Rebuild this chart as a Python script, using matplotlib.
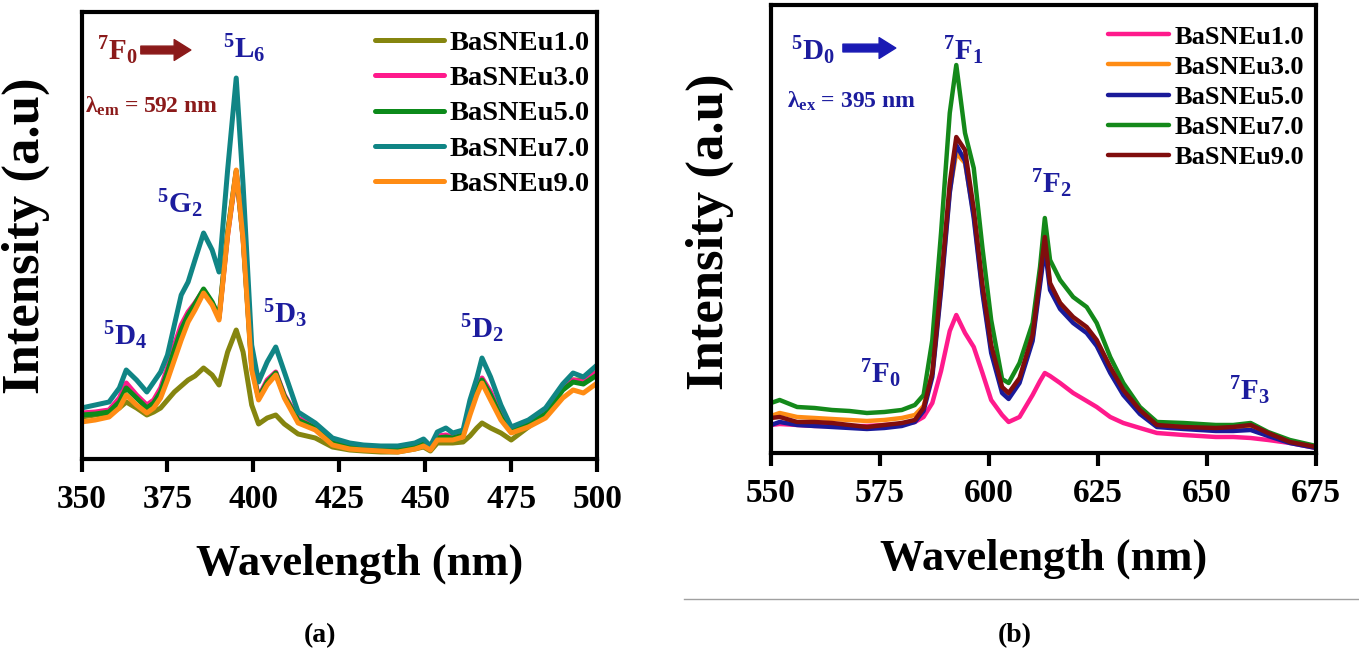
import matplotlib
matplotlib.use("Agg")
import matplotlib.pyplot as plt
from matplotlib.lines import Line2D

plt.rcParams['font.family'] = ['Liberation Serif', 'DejaVu Serif']
plt.rcParams['font.weight'] = 'bold'
plt.rcParams['mathtext.fontset'] = 'custom'
plt.rcParams['mathtext.rm'] = 'Liberation Serif:bold'
plt.rcParams['mathtext.it'] = 'Liberation Serif:bold'
plt.rcParams['mathtext.bf'] = 'Liberation Serif:bold'

# ---- panel (a): excitation spectra, lambda_em = 592 nm ----
wl_a = [350, 354, 358, 361, 363, 366, 369, 371, 373, 375, 377, 379, 381, 383, 385.5,
        388, 390, 392.5, 395, 397, 399.5, 401.5, 404, 406.5, 409, 413, 418, 423, 428,
        432, 437, 442, 447, 449.5, 451.5, 453.5, 456, 458, 461, 463, 465, 466.5, 469,
        472, 475, 480, 485, 490, 493, 496, 500]
eu1_a = [43, 45, 47, 52, 58, 52, 45, 48, 52, 60, 68, 74, 80, 84, 92,
         85, 75, 108, 130, 108, 55, 36, 42, 45, 36, 26, 22, 13, 10,
         9, 8, 8, 11, 13, 9, 17, 17, 17, 18, 24, 32, 37, 32,
         27, 20, 33, 47, 72, 80, 80, 88]
eu3_a = [47, 48, 50, 62, 77, 65, 55, 60, 72, 92, 115, 135, 148, 157, 170,
         157, 142, 225, 288, 222, 95, 63, 80, 88, 65, 42, 33, 18, 14,
         12, 11, 11, 14, 17, 12, 24, 25, 23, 26, 52, 72, 82, 68,
         45, 30, 38, 48, 72, 80, 78, 88]
eu5_a = [45, 46, 48, 58, 72, 62, 52, 57, 68, 88, 110, 130, 145, 156, 171,
         158, 143, 228, 289, 222, 93, 62, 78, 87, 64, 40, 32, 17, 13,
         11, 10, 10, 13, 16, 11, 22, 23, 22, 25, 50, 70, 80, 65,
         43, 29, 36, 46, 70, 78, 76, 85]
eu7_a = [52, 55, 58, 72, 90, 80, 68, 78, 88, 105, 135, 165, 178, 200, 227,
         210, 188, 290, 382, 275, 115, 78, 98, 113, 88, 48, 37, 22, 17,
         15, 14, 14, 17, 21, 14, 28, 32, 27, 30, 60, 82, 102, 83,
         55, 33, 40, 52, 76, 87, 83, 95]
eu9_a = [38, 40, 43, 52, 65, 55, 47, 52, 62, 80, 100, 120, 138, 150, 167,
         155, 140, 225, 290, 220, 90, 60, 75, 85, 62, 37, 30, 15, 11,
         10, 9, 8, 11, 14, 10, 20, 20, 20, 23, 45, 65, 77, 60,
         40, 27, 33, 42, 62, 70, 67, 77]

# ---- panel (b): emission spectra, lambda_ex = 395 nm ----
wl_b = [550, 552, 556, 560, 564, 568, 572, 576, 580, 583, 585, 587, 589, 591, 592.5,
        594.5, 596.5, 598.5, 600.5, 603, 604.5, 607, 610, 611.7, 612.8, 614, 616.3,
        619.3, 622.4, 624.7, 627.8, 630.8, 634.6, 638.5, 644.6, 652, 656, 660, 664,
        669, 675]
eu1_b = [28, 29, 28, 27, 27, 27, 27, 28, 29, 31, 36, 50, 82, 122, 138,
         120, 106, 80, 53, 38, 31, 36, 58, 72, 80, 77, 70,
         60, 52, 46, 36, 30, 25, 20, 18, 16, 16, 15, 13,
         10, 5]
eu3_b = [37, 40, 36, 35, 34, 33, 32, 33, 35, 38, 47, 80, 165, 262, 300,
         290, 238, 163, 104, 64, 58, 73, 115, 172, 210, 168, 150,
         133, 123, 110, 83, 61, 41, 27, 25, 24, 25, 27, 19,
         11, 6]
eu5_b = [28, 31, 28, 27, 26, 25, 24, 25, 27, 31, 42, 76, 162, 260, 308,
         292, 235, 160, 100, 60, 54, 70, 112, 168, 205, 163, 144,
         130, 120, 107, 80, 58, 39, 26, 24, 22, 22, 23, 17,
         10, 5]
eu7_b = [50, 53, 46, 45, 43, 42, 40, 41, 43, 48, 58, 113, 220, 340, 388,
         320, 285, 205, 133, 74, 70, 90, 130, 186, 235, 193, 173,
         156, 146, 130, 96, 70, 46, 31, 30, 28, 28, 30, 21,
         13, 7]
eu9_b = [35, 36, 31, 31, 30, 28, 26, 28, 30, 33, 45, 80, 170, 270, 316,
         303, 244, 168, 108, 66, 60, 75, 118, 176, 216, 170, 150,
         136, 126, 113, 86, 63, 43, 28, 26, 25, 26, 28, 20,
         11, 6]

labels = ['BaSNEu1.0', 'BaSNEu3.0', 'BaSNEu5.0', 'BaSNEu7.0', 'BaSNEu9.0']
colors_a = ['#85850f', '#ff1a8c', '#0c8a1a', '#108585', '#ff8c14']
colors_b = ['#ff1a8c', '#ff8c14', '#1a1a99', '#14891a', '#800d0d']

blue = '#1c1c9e'
darkred = '#8b1a1a'

fig = plt.figure(figsize=(13.59, 6.53), dpi=100)
ax_a = fig.add_axes([0.060, 0.2971, 0.3794, 0.6845])
ax_b = fig.add_axes([0.5673, 0.3063, 0.4011, 0.686])

series_a = [eu1_a, eu3_a, eu5_a, eu7_a, eu9_a]
series_b = [eu1_b, eu3_b, eu5_b, eu7_b, eu9_b]

for s, c, lab in zip(series_a, colors_a, labels):
    ax_a.plot(wl_a, s, color=c, lw=3.6, label=lab, solid_capstyle='round')
for s, c, lab in zip(series_b, colors_b, labels):
    ax_b.plot(wl_b, s, color=c, lw=3.2, label=lab, solid_capstyle='round')

ax_a.set_xlim(350, 500)
ax_a.set_ylim(1, 448)
ax_a.set_xticks([350, 375, 400, 425, 450, 475, 500])
ax_b.set_xlim(550, 675)
ax_b.set_ylim(0, 448)
ax_b.set_xticks([550, 575, 600, 625, 650, 675])

for ax in (ax_a, ax_b):
    ax.set_yticks([])
    for sp in ax.spines.values():
        sp.set_linewidth(3)
    ax.tick_params(axis='x', direction='out', length=9, width=3, pad=9, labelsize=24)
    ax.set_xlabel('Wavelength (nm)', fontsize=32, fontweight='bold')
    ax.set_ylabel('Intensity (a.u)', fontsize=38, fontweight='bold')

ax_a.xaxis.set_label_coords(0.54, -0.19)
ax_b.xaxis.set_label_coords(0.50, -0.19)
ax_a.yaxis.set_label_coords(-0.061, 0.499)
ax_b.yaxis.set_label_coords(-0.068, 0.493)

ax_a.legend(loc='upper right', bbox_to_anchor=(0.985, 0.96), frameon=False,
            fontsize=20.5, handlelength=2.4, handletextpad=0.2, labelspacing=0.33,
            borderpad=0, borderaxespad=0)
ax_b.legend(loc='upper right', bbox_to_anchor=(0.978, 0.955), frameon=False,
            fontsize=19, handlelength=2.3, handletextpad=0.2, labelspacing=0.25,
            borderpad=0, borderaxespad=0)

# transition labels, panel (a)
kw = dict(transform=ax_a.transAxes, ha='center', va='baseline', fontsize=21, fontweight='bold')
ax_a.text(0.070, 0.893, r'$^{7}$F$_{0}$', color=darkred, **kw)
ax_a.text(0.315, 0.897, r'$^{5}$L$_{6}$', color=blue, **kw)
ax_a.text(0.191, 0.550, r'$^{5}$G$_{2}$', color=blue, **kw)
ax_a.text(0.084, 0.255, r'$^{5}$D$_{4}$', color=blue, **kw)
ax_a.text(0.395, 0.304, r'$^{5}$D$_{3}$', color=blue, **kw)
ax_a.text(0.777, 0.271, r'$^{5}$D$_{2}$', color=blue, **kw)
ax_a.text(0.007, 0.774, r'λ$_{em}$ = 592 nm', color=darkred, transform=ax_a.transAxes,
          ha='left', va='baseline', fontsize=17, fontweight='bold')
ax_a.annotate('', xy=(0.212, 0.915), xytext=(0.115, 0.915), xycoords='axes fraction',
              arrowprops=dict(arrowstyle='simple,head_length=0.6,head_width=0.75,tail_width=0.28',
                              color=darkred, mutation_scale=20, shrinkA=0, shrinkB=0))

# transition labels, panel (b)
kw = dict(transform=ax_b.transAxes, ha='center', va='baseline', fontsize=21, fontweight='bold', color=blue)
ax_b.text(0.077, 0.877, r'$^{5}$D$_{0}$', **kw)
ax_b.text(0.352, 0.877, r'$^{7}$F$_{1}$', **kw)
ax_b.text(0.514, 0.580, r'$^{7}$F$_{2}$', **kw)
ax_b.text(0.200, 0.156, r'$^{7}$F$_{0}$', **kw)
ax_b.text(0.877, 0.118, r'$^{7}$F$_{3}$', **kw)
ax_b.text(0.029, 0.770, r'λ$_{ex}$ = 395 nm', color=blue, transform=ax_b.transAxes,
          ha='left', va='baseline', fontsize=17, fontweight='bold')
ax_b.annotate('', xy=(0.229, 0.904), xytext=(0.132, 0.904), xycoords='axes fraction',
              arrowprops=dict(arrowstyle='simple,head_length=0.6,head_width=0.75,tail_width=0.28',
                              color='#1a1ab4', mutation_scale=20, shrinkA=0, shrinkB=0))

# separator line and panel captions
fig.add_artist(Line2D([684 / 1359, 1.0], [1 - 599 / 653, 1 - 599 / 653],
                      color='#a0a0a0', lw=1))
fig.text(320 / 1359, 1 - 636 / 653, '(a)', ha='center', va='center', fontsize=20, fontweight='bold')
fig.text(1015 / 1359, 1 - 636 / 653, '(b)', ha='center', va='center', fontsize=20, fontweight='bold')

fig.savefig('out.png', dpi=100)
